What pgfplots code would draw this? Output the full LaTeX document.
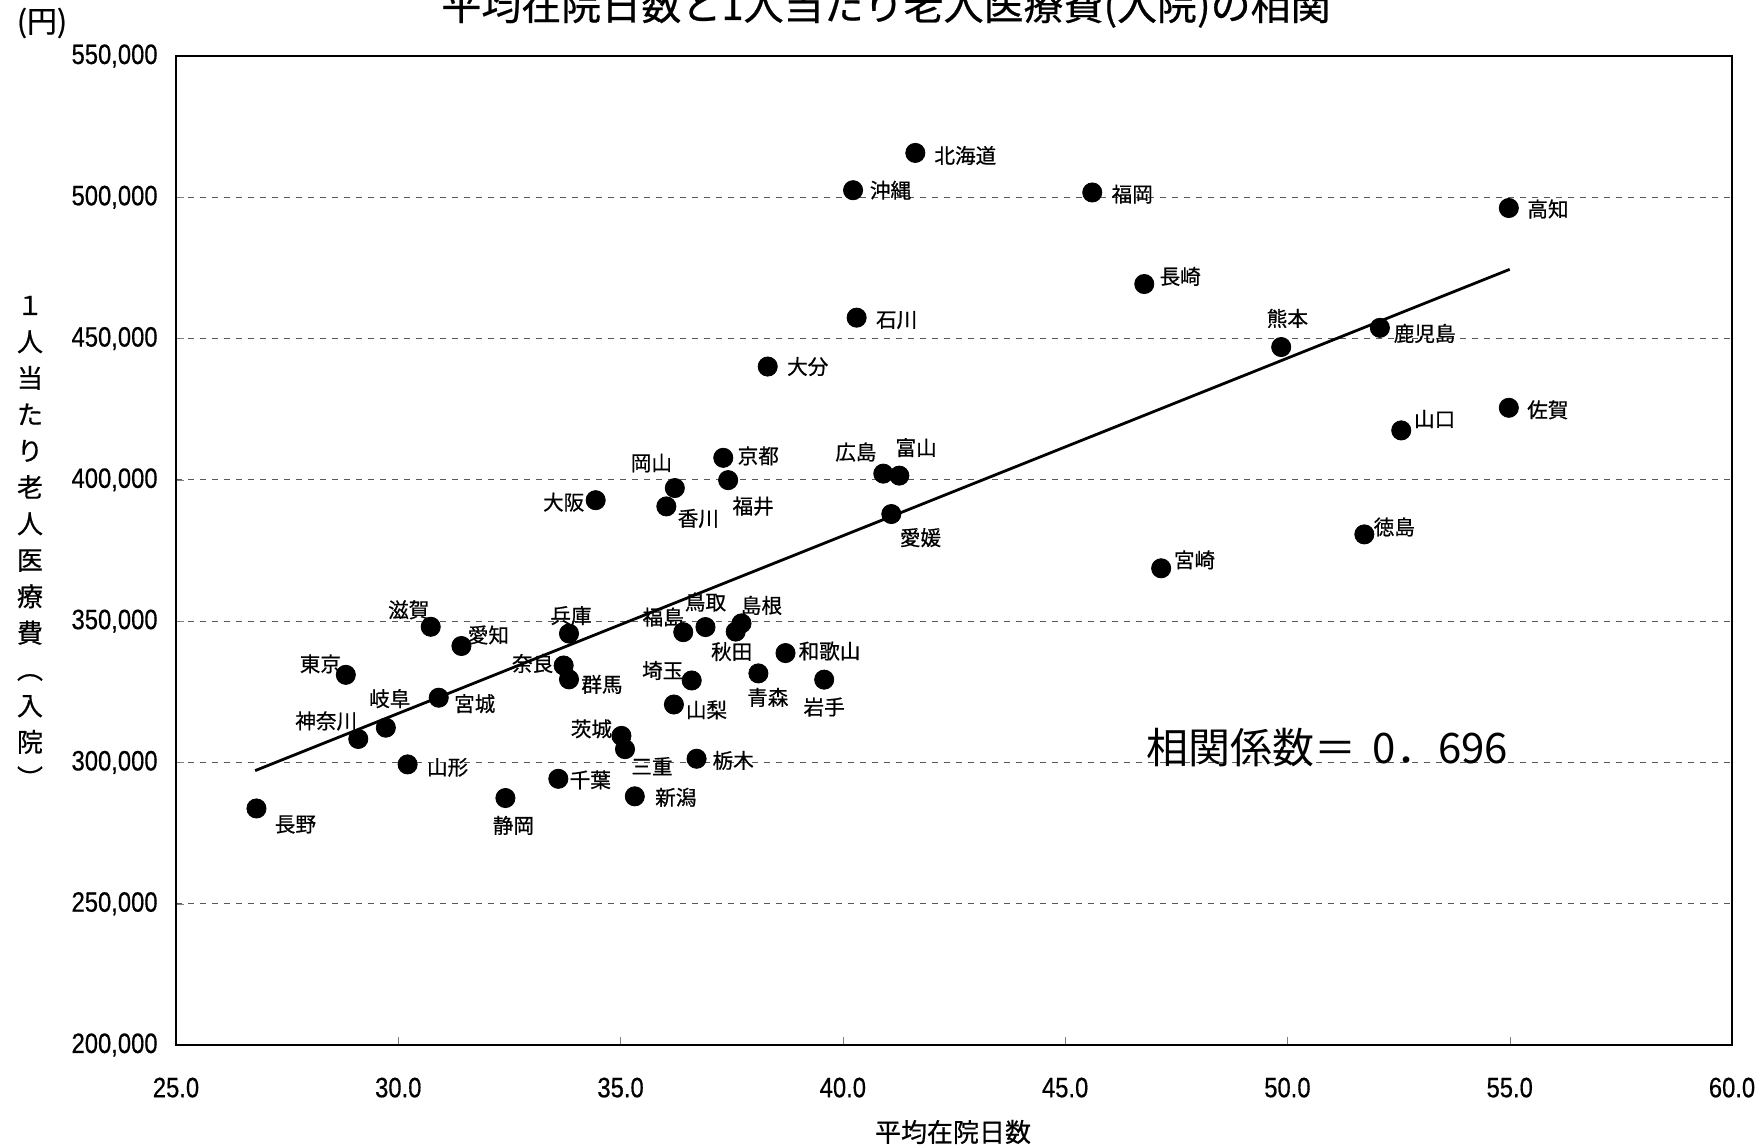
\documentclass[border=0pt]{standalone}
\usepackage{fontspec}
\setmainfont{Liberation Sans}
\newfontfamily\jp{Noto Sans CJK JP}
\newfontfamily\jpb[FakeBold=0.6]{Noto Sans CJK JP}
\newfontfamily\axisnumfont[FakeStretch=0.85, FakeBold=0.5]{Liberation Sans}
\usepackage{pgfplots}
\usepackage{pgfplotstable}
\pgfplotsset{compat=1.18}

% x: 平均在院日数, y: 1人当たり老人医療費(入院), dx/dy: label offset in pt
\pgfplotstableread{
x y dx dy name
41.63 515700 25 -1.3 北海道
40.23 502500 18.7 0 沖縄
45.61 501700 20 -0.8 福岡
54.98 496200 19.6 -0.5 高知
46.78 469300 18 3.8 長崎
40.31 457400 20 -1.2 石川
49.86 447000 3.1 14.3 熊本
52.08 453800 22.4 -2.8 鹿児島
38.31 440100 20 0 大分
54.98 425500 19.5 -1 佐賀
52.56 417500 16.7 5.7 山口
37.31 407800 17.5 1 京都
37.42 399900 12.5 -13 福井
36.22 397100 -11.7 12.5 岡山
36.03 390600 16 -6 香川
34.44 392800 -16 -1 大阪
40.91 402200 -13.7 10.8 広島
41.27 401500 8.4 14 富山
41.09 387900 14.6 -11.8 愛媛
51.73 380700 15 3.7 徳島
47.16 368700 16.7 4.2 宮崎
30.73 348000 -11 8.5 滋賀
31.42 341200 13.5 5.5 愛知
28.82 331000 -12.7 5.5 東京
29.72 312300 2 14.5 岐阜
29.10 308300 -16 9 神奈川
30.91 322900 18 -3 宮城
30.21 299300 20 -1.5 山形
26.81 283700 19.5 -8 長野
32.41 287400 4 -13.7 静岡
33.60 294200 16 -0.5 千葉
35.32 288000 20.5 -0.5 新潟
33.84 345600 1 9 兵庫
36.41 346100 -10 7.5 福島
36.91 347900 0 12.5 鳥取
37.72 349200 10 9 島根
37.59 346300 -2 -10 秋田
33.72 334300 -15.5 1 奈良
33.84 329400 16.5 -2.5 群馬
36.60 329000 -14.5 5 埼玉
36.20 320500 16.3 -2.7 山梨
38.71 338700 22 1 和歌山
38.10 331500 4.7 -12 青森
39.58 329300 0 -13.7 岩手
35.02 309400 -15 3.5 茨城
35.10 304700 13.5 -8.5 三重
36.71 301300 18.3 -0.8 栃木
}\prefdata

\begin{document}
\begin{tikzpicture}
\begin{axis}[
    scale only axis,
    width=778pt, height=494.5pt,
    xmin=25, xmax=60,
    ymin=200000, ymax=550000,
    xtick={25,30,...,60},
    ytick={200000,250000,...,550000},
    scaled ticks=false,
    /pgf/number format/assume math mode=true,
    x tick label style={/pgf/number format/fixed, /pgf/number format/fixed zerofill,
        /pgf/number format/precision=1},
    y tick label style={/pgf/number format/fixed, /pgf/number format/1000 sep={,}},
    tick label style={font=\axisnumfont\fontsize{14}{16}\selectfont},
    xticklabel style={anchor=center, yshift=-21.3pt},
    yticklabel style={anchor=east, inner sep=0pt, xshift=-9pt},
    tick align=inside,
    major tick length=4pt,
    xtick pos=bottom, ytick pos=left,
    ymajorgrids,
    grid style={dash pattern=on 3pt off 3pt, black!65, line width=0.6pt},
    axis line style={line width=1.1pt},
    clip=false,
]
% 回帰直線
\addplot [black, line width=1.4pt, mark=none] coordinates {(26.78,297100) (55.0,474500)};

% 都道府県
\addplot [
    only marks, mark=*, mark size=4.8pt, black,
    point meta=explicit symbolic,
    visualization depends on={\thisrow{dx} \as \labeldx},
    visualization depends on={\thisrow{dy} \as \labeldy},
    nodes near coords,
    nodes near coords style={anchor=center, inner sep=0pt,
        xshift=\labeldx pt, yshift=\labeldy pt,
        font=\jpb\fontsize{10.3}{12}\selectfont},
] table [x=x, y=y, meta=name] {\prefdata};
\end{axis}

\node[font=\jpb\fontsize{20}{24}\selectfont] at (355pt,519pt)
    {平均在院日数と1人当たり老人医療費(入院)の相関};
\node[font=\jpb\fontsize{15}{17}\selectfont] at (-67pt,511pt) {(円)};
\node[font=\jpb\fontsize{13}{18.2}\selectfont, align=center] at (-73pt,251.5pt)
    {１\\人\\当\\た\\り\\老\\人\\医\\療\\費\\︵\\入\\院\\︶};
\node[font=\jpb\fontsize{13}{16}\selectfont] at (388.5pt,-43.5pt) {平均在院日数};
\node[font=\jp\fontsize{21}{24}\selectfont] at (575.75pt,148.75pt)
    {相関係数＝\hspace{8pt}0．696};

\pgfresetboundingbox
\useasboundingbox (-88pt,-51pt) rectangle (791pt,522.5pt);
\end{tikzpicture}
\end{document}
